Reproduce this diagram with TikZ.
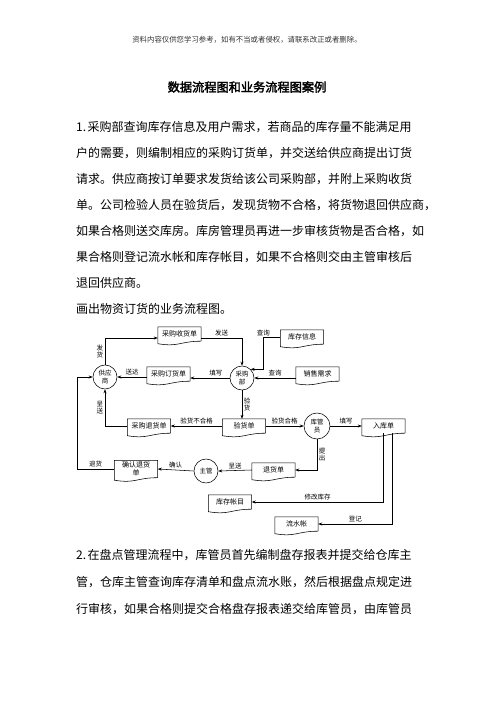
\documentclass[tikz,border=0pt]{standalone}
\usepackage{fontspec}
\newfontfamily\cjk[AutoFakeBold=2.5]{Noto Sans CJK SC}
\usetikzlibrary{arrows.meta}
\XeTeXlinebreaklocale "zh"
\XeTeXlinebreakskip=0pt plus 2pt minus 0.8pt

% document symbol: box with a wavy bottom edge
\newcommand{\docframe}[1]{%
  \draw[line width=0.55pt] (#1.south east) -- (#1.north east) -- (#1.north west)
    -- ([yshift=-2.5pt]#1.south west)
    .. controls +(21.5,3.5) and +(-21.5,0) .. (#1.south east);}

\begin{document}
\begin{tikzpicture}[x=1pt, y=-1pt,
  proc/.style={circle, draw, line width=0.55pt, minimum size=24pt, inner sep=0pt,
               font=\cjk\fontsize{6.5}{7.5}\selectfont, align=center},
  doc/.style={minimum width=43pt, minimum height=14pt, inner sep=0pt,
              font=\cjk\fontsize{7}{7.5}\selectfont, align=center},
  lbl/.style={font=\cjk\fontsize{6.5}{7.5}\selectfont, inner sep=1.5pt, align=center},
  line/.style={->, >={Stealth[length=4pt, width=3pt]}, line width=0.55pt},
  body/.style={anchor=west, font=\cjk\fontsize{12}{14}\selectfont, inner sep=0pt},
]
  \useasboundingbox (0,0) rectangle (496,702);

  % page text
  \node[font=\cjk\fontsize{7.4}{9}\selectfont, text=black!80] (hdr) at (247,40)
    {资料内容仅供您学习参考，如有不当或者侵权，请联系改正或者删除。};
  \node[font=\cjk\bfseries\fontsize{12.2}{14}\selectfont] (title) at (247,87)
    {数据流程图和业务流程图案例};
  \node[body] (p1) at (76,127) {\makebox[344pt][s]{1.\hspace{1.5pt}采购部查询库存信息及用户需求，若商品的库存量不能满足用}};
  \node[body] (p2) at (76,153) {\makebox[344pt][s]{户的需要，则编制相应的采购订货单，并交送给供应商提出订货}};
  \node[body] (p3) at (76,179) {\makebox[344pt][s]{请求。供应商按订单要求发货给该公司采购部，并附上采购收货}};
  \node[body] (p4) at (76,205) {\makebox[349pt][s]{单。公司检验人员在验货后，发现货物不合格，将货物退回供应商，}};
  \node[body] (p5) at (76,231) {\makebox[344pt][s]{如果合格则送交库房。库房管理员再进一步审核货物是否合格，如}};
  \node[body] (p6) at (76,257) {\makebox[344pt][s]{果合格则登记流水帐和库存帐目，如果不合格则交由主管审核后}};
  \node[body] (p7) at (76,283) {退回供应商。};
  \node[body] (p8) at (76,309) {画出物资订货的业务流程图。};

  \node[body] (q1) at (76,555) {\makebox[339pt][s]{2.\hspace{1.5pt}在盘点管理流程中，库管员首先编制盘存报表并提交给仓库主}};
  \node[body] (q2) at (76,582) {\makebox[339pt][s]{管，仓库主管查询库存清单和盘点流水账，然后根据盘点规定进}};
  \node[body] (q3) at (76,609) {\makebox[339pt][s]{行审核，如果合格则提交合格盘存报表递交给库管员，由库管员}};

  % documents
  \node[doc] (srd)   at (179.5,334) {采购收货单};
  \node[doc] (kcxx)  at (302,337)   {库存信息};
  \node[doc] (xsxq)  at (317.5,374) {销售需求};
  \node[doc] (dhd)   at (168.5,374) {采购订货单};
  \node[doc] (thd)   at (149,426)   {采购退货单};
  \node[doc] (yhd)   at (244,426)   {验货单};
  \node[doc] (rkd)   at (383.5,426) {入库单};
  \node[doc] (tuihd) at (273.5,470) {退货单};
  \node[doc, minimum height=17pt] (qrthd) at (136,469) {确认退货\\单};
  \node[doc] (kczm)  at (230,502)   {库存帐目};
  \node[doc] (lsz)   at (296.5,524) {流水帐};
  \foreach \n in {srd,kcxx,xsxq,dhd,thd,yhd,rkd,tuihd,qrthd,kczm,lsz}
    \docframe{\n};

  % processing units
  \node[proc] (gys) at (105,377) {供应\\商};
  \node[proc] (cgb) at (242,378) {采购\\部};
  \node[proc, minimum size=26pt] (kgy) at (317,426) {库管\\员};
  \node[proc] (zg)  at (206,471) {主管};

  % flows
  \draw[line] (gys.north) |- ([yshift=-4pt]srd.west) node[lbl, pos=0.25, left] {发\\货};
  \draw[line] ([yshift=-4pt]srd.east) -| (cgb.north) node[lbl, pos=0.25, above] {发送};
  \draw[line] (kcxx.west) -- ++(-17,0) node[lbl, pos=1, above, inner sep=0.5pt] {查询} |- (cgb.45);
  \draw[line] (xsxq.west |- cgb.east) -- (cgb.east) node[lbl, midway, above] {查询};
  \draw[line] (cgb.west) -- (dhd.east |- cgb.west) node[lbl, pos=0.35, above] {填写};
  \draw[line] (dhd.west |- gys.east) -- (gys.east) node[lbl, midway, above] {送达};
  \draw[line] (cgb.south) -- (cgb.south |- yhd.north) node[lbl, midway, right] {验\\货};
  \draw[line] (yhd.west) -- (thd.east) node[lbl, midway, above] {验货不合格};
  \draw[line] (thd.west) -| (gys.south) node[lbl, pos=0.75, left] {呈\\送};
  \draw[line] (yhd.east) -- (kgy.west) node[lbl, midway, above] {验货合格};
  \draw[line] (kgy.east) -- (rkd.west) node[lbl, midway, above] {填写};
  \draw[line] (kgy.south) |- (tuihd.east) node[lbl, pos=0.25, right] {提\\出};
  \draw[line] (tuihd.west) -- (zg.east) node[lbl, midway, above] {呈送};
  \draw[line] (zg.west) -- (qrthd.east) node[lbl, midway, above] {确认};
  \draw[line] (qrthd.west) -- ++(-37.5,0) node[lbl, midway, above] {退货} |- (gys.west);
  \draw[line] (rkd.south) |- (kczm.east) node[lbl, pos=0.75, above] {修改库存};
  \draw[line] ([xshift=9pt]rkd.south) |- (lsz.east) node[lbl, pos=0.75, above] {登记};
\end{tikzpicture}
\end{document}
